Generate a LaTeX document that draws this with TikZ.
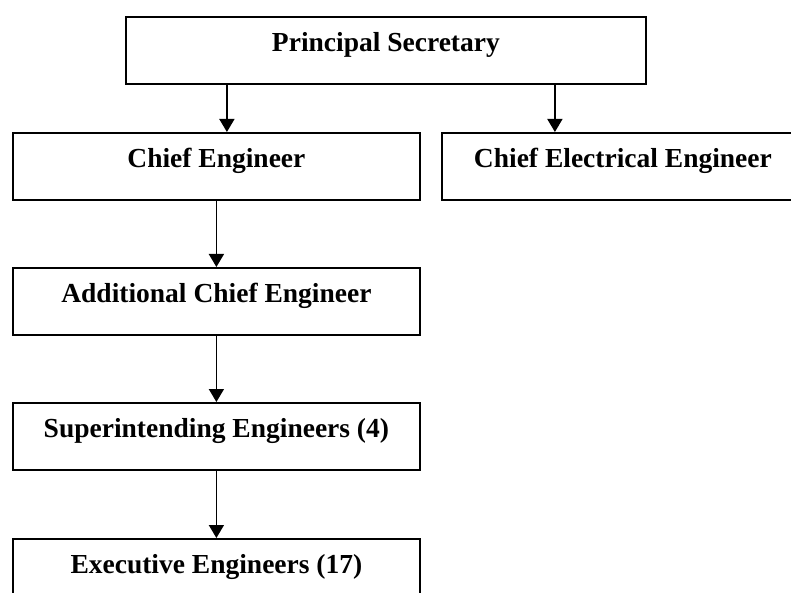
\documentclass[tikz,border=0pt]{standalone}
\usepackage{fontspec}
\setmainfont{Liberation Serif}
\usetikzlibrary{arrows.meta}

\begin{document}
\begin{tikzpicture}[x=1pt,y=-1pt,
  post/.style={draw=black,line width=1.8pt,anchor=north west,inner sep=0pt,
    text height=35pt,text depth=32pt,font=\fontsize{27.5}{32}\bfseries},
  link/.style={draw=black,line width=1.6pt,-{Triangle[width=15pt,length=13pt]}}]
\useasboundingbox (0,0) rectangle (791,593);
\node [post,minimum width=520pt] (ps) at (125,16) {Principal Secretary};
\node [post,minimum width=407pt] (ce) at (12,132) {Chief Engineer};
\node [post,minimum width=362pt] (cee) at (441,132) {Chief Electrical Engineer};
\node [post,minimum width=407pt] (ace) at (12,267) {Additional Chief Engineer};
\node [post,minimum width=407pt] (se) at (12,402) {Superintending Engineers (4)};
\node [post,minimum width=407pt] (ee) at (12,538) {Executive Engineers (17)};
\draw [link] ([xshift=-159pt]ps.south) -- ([xshift=-159pt]ps.south |- ce.north);
\draw [link] ([xshift=169pt]ps.south) -- ([xshift=169pt]ps.south |- cee.north);
\draw [link] (ce) -- (ace);
\draw [link] (ace) -- (se);
\draw [link] (se) -- (ee);
\end{tikzpicture}
\end{document}
